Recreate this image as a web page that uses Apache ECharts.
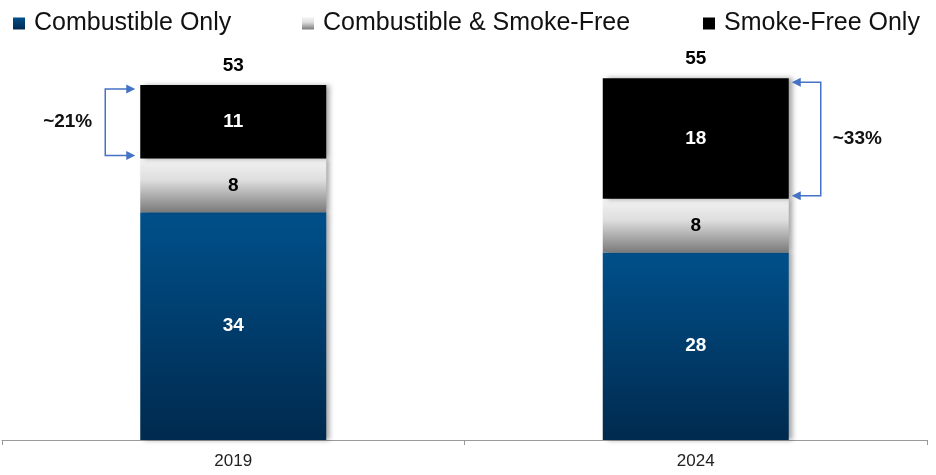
<!DOCTYPE html>
<html>
<head>
<meta charset="utf-8">
<script src="https://cdn.jsdelivr.net/npm/echarts@6/dist/echarts.min.js"></script>
<style>html,body{margin:0;padding:0;background:#fff;}#c{width:936px;height:475px;}</style>
</head>
<body>
<div id="c"></div>
<script>
const categories = ['2019', '2024'];
const combustibleOnly = [34, 28];
const combustibleSmokeFree = [8, 8];
const smokeFreeOnly = [11, 18];
const totals = [53, 55];
const shareText = ['~21%', '~33%'];
const shareSide = ['left', 'right'];

const FONT = '"Liberation Sans", Arial, sans-serif';
const chart = echarts.init(document.getElementById('c'));

const blueGrad = new echarts.graphic.LinearGradient(0, 0, 0, 1, [
  { offset: 0, color: '#00508b' }, { offset: 1, color: '#002a4e' }]);
const grayGrad = new echarts.graphic.LinearGradient(0, 0, 0, 1, [
  { offset: 0, color: '#f3f3f3' }, { offset: 0.4, color: '#dedede' }, { offset: 1, color: '#7a7a7a' }]);

const shadow = { shadowColor: 'rgba(0,0,0,0.35)', shadowBlur: 5, shadowOffsetX: 4, shadowOffsetY: 0 };
const lbl = (c) => ({ show: true, position: 'inside', color: c, fontFamily: FONT, fontWeight: 'bold', fontSize: 19 });

const annData = categories.map((c, i) => [i,
  combustibleOnly[i] + combustibleSmokeFree[i],
  combustibleOnly[i] + combustibleSmokeFree[i] + smokeFreeOnly[i],
  totals[i], shareText[i], shareSide[i]]);

function renderAnn(params, api) {
  const i = api.value(0);
  const lowV = api.value(1), highV = api.value(2);
  const d = annData[params.dataIndex];
  const pLow = api.coord([i, lowV]);
  const pHigh = api.coord([i, highV]);
  const half = 93;
  const cx = pLow[0];
  const col = '#4472c4';
  const children = [];
  children.push({ type: 'text', style: { text: String(d[3]), x: cx, y: pHigh[1] - 19, textAlign: 'center', textVerticalAlign: 'middle', font: 'bold 19px ' + FONT, fill: '#000' } });
  const yTop = pHigh[1] + 4, yBot = pLow[1] - 3;
  let edge, vx, dir;
  if (d[5] === 'left') { edge = cx - half - 5; vx = cx - half - 35; dir = 1; }
  else { edge = cx + half + 3; vx = cx + half + 32; dir = -1; }
  children.push({ type: 'polyline', shape: { points: [[edge - dir * 8, yTop], [vx, yTop], [vx, yBot], [edge - dir * 8, yBot]] }, style: { stroke: col, lineWidth: 1.5, fill: null } });
  [yTop, yBot].forEach(y => {
    children.push({ type: 'polygon', shape: { points: [[edge, y], [edge - dir * 9, y - 4.5], [edge - dir * 9, y + 4.5]] }, style: { fill: col } });
  });
  const ty = (yTop + yBot) / 2;
  if (d[5] === 'left') {
    children.push({ type: 'text', style: { text: d[4], x: vx - 13, y: ty, textAlign: 'right', textVerticalAlign: 'middle', font: 'bold 19px ' + FONT, fill: '#111' } });
  } else {
    children.push({ type: 'text', style: { text: d[4], x: vx + 12, y: ty, textAlign: 'left', textVerticalAlign: 'middle', font: 'bold 19px ' + FONT, fill: '#111' } });
  }
  return { type: 'group', children };
}

const legendBase = { top: 6, icon: 'rect', itemWidth: 12, itemHeight: 12, itemGap: 0,
  textStyle: { fontFamily: FONT, fontSize: 25, color: '#111', padding: [0, 0, 0, 4] } };

chart.setOption({
  animation: false,
  legend: [
    Object.assign({}, legendBase, { left: 8, data: ['Combustible Only'] }),
    Object.assign({}, legendBase, { left: 297, data: ['Combustible & Smoke-Free'] }),
    Object.assign({}, legendBase, { left: 698, data: ['Smoke-Free Only'] })
  ],
  grid: { left: 2, right: 9, top: 38, bottom: 35 },
  xAxis: {
    type: 'category', data: categories, boundaryGap: true,
    axisLine: { lineStyle: { color: '#9a9a9a', width: 1 } },
    axisTick: { show: true, length: 5, lineStyle: { color: '#9a9a9a' } },
    axisLabel: { fontFamily: FONT, fontSize: 17, color: '#222', margin: 13 }
  },
  yAxis: { type: 'value', min: 0, max: 60, show: false, splitLine: { show: false } },
  series: [
    { name: 'Combustible Only', type: 'bar', stack: 's', barWidth: 186, data: combustibleOnly,
      itemStyle: Object.assign({ color: blueGrad }, shadow), label: lbl('#fff') },
    { name: 'Combustible & Smoke-Free', type: 'bar', stack: 's', barWidth: 186, data: combustibleSmokeFree,
      itemStyle: Object.assign({ color: grayGrad }, shadow), label: lbl('#000') },
    { name: 'Smoke-Free Only', type: 'bar', stack: 's', barWidth: 186, data: smokeFreeOnly,
      itemStyle: Object.assign({ color: '#000' }, shadow), label: lbl('#fff') },
    { type: 'custom', renderItem: renderAnn, data: annData.map(a => [a[0], a[1], a[2]]), z: 10, silent: true }
  ]
});
</script>
</body>
</html>
